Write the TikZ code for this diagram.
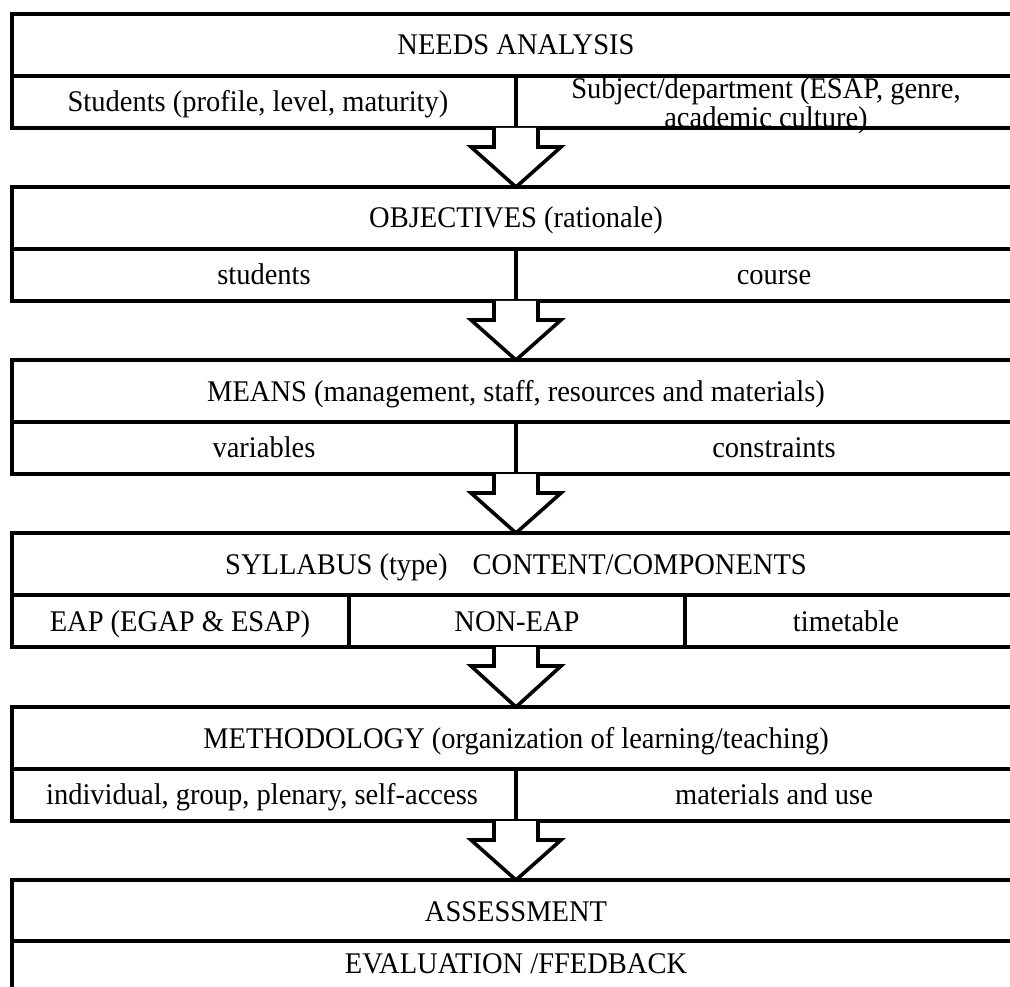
\documentclass[tikz,border=0pt]{standalone}
\usepackage{fontspec}
\setmainfont{Liberation Serif}[FakeStretch=0.95]
\usetikzlibrary{calc}
\tikzset{
  frame/.style={line width=3.6pt, line join=miter},
  lbl/.style={font=\fontsize{30}{30}\selectfont, inner sep=0pt, anchor=center, align=center, text height=21pt, text depth=7pt},
  lbltwo/.style={font=\fontsize{30}{29}\selectfont, inner sep=0pt, anchor=center, align=center},
  blockarrow/.style={line width=3.6pt, line join=miter, fill=white},
}
\newcommand{\twobox}[2]{%
  \draw[frame] (12,#1) rectangle (1030,#1+114);
  \draw[frame] (12,#1+62) -- (1030,#1+62);
  \draw[frame] (516,#1+62) -- (516,#1+114);
  \coordinate (t#2) at (516,#1);
  \coordinate (b#2) at (516,#1+114);
}
\newcommand{\flowarrow}[2]{%
  \draw[blockarrow] ($(b#1)+(-22,0)$) -- ($(b#1)+(-22,19)$) -- ($(b#1)+(-45,19)$)
     -- (t#2) -- ($(b#1)+(45,19)$) -- ($(b#1)+(22,19)$) -- ($(b#1)+(22,0)$);
}
\begin{document}
\begin{tikzpicture}[x=1pt,y=-1pt]
\useasboundingbox (0,0) rectangle (1010,987);
\clip (0,0) rectangle (1010,987);
% box 1
\twobox{14}{1}
\node[lbl] (needs) at (516,48) {NEEDS ANALYSIS};
\node[lbl] (stud1) at (258,105) {Students (profile, level, maturity)};
% box 2
\twobox{187}{2}
\node[lbl] (obj) at (516,221) {OBJECTIVES (rationale)};
\node[lbl] (stud2) at (264,277) {students};
\node[lbl] (course) at (774,277) {course};
% box 3
\twobox{360}{3}
\node[lbl] (means) at (516,394) {MEANS (management, staff, resources and materials)};
\node[lbl] (vars) at (264,450) {variables};
\node[lbl] (cons) at (774,450) {constraints};
% box 4
\draw[frame] (12,533) rectangle (1030,647);
\draw[frame] (12,595) -- (1030,595);
\draw[frame] (349,595) -- (349,647);
\draw[frame] (685,595) -- (685,647);
\coordinate (t4) at (516,533);
\coordinate (b4) at (516,647);
\node[lbl] (syl) at (516,567) {SYLLABUS (type)\hspace{0.6em} CONTENT/COMPONENTS};
\node[lbl] (eap) at (180,624) {EAP (EGAP \& ESAP)};
\node[lbl] (noneap) at (517,624) {NON-EAP};
\node[lbl] (time) at (846,624) {timetable};
% box 5
\twobox{707}{5}
\node[lbl] (meth) at (516,741) {METHODOLOGY (organization of learning/teaching)};
\node[lbl] (indiv) at (262,797) {individual, group, plenary, self-access};
\node[lbl] (mat) at (774,797) {materials and use};
% box 6
\draw[frame] (12,880) rectangle (1030,1010);
\draw[frame] (12,941) -- (1030,941);
\coordinate (t6) at (516,880);
\node[lbl] (assess) at (516,914) {ASSESSMENT};
\node[lbl] (eval) at (516,966) {EVALUATION /FFEDBACK};
% text that runs over the lower border, as in the reference
\node[lbltwo] (subj) at (766,106) {Subject/department (ESAP, genre,\\academic culture)};
% arrows
\flowarrow{1}{2}
\flowarrow{2}{3}
\flowarrow{3}{4}
\flowarrow{4}{5}
\flowarrow{5}{6}
\end{tikzpicture}
\end{document}
